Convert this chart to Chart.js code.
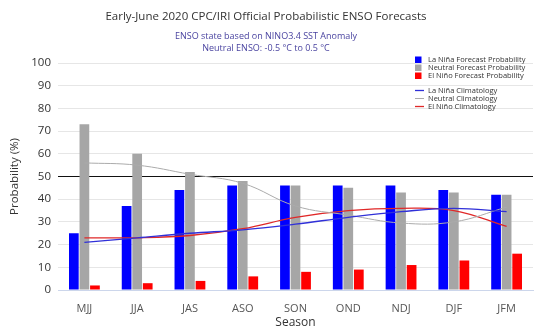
<!DOCTYPE html>
<html>
<head>
<meta charset="utf-8">
<script src="https://cdn.jsdelivr.net/npm/chart.js@4.4.1/dist/chart.umd.min.js"></script>
<style>
  html, body { margin: 0; padding: 0; background: #fff; }
  #wrap { width: 547px; height: 335px; }
</style>
</head>
<body>
<div id="wrap"><canvas id="chart" width="547" height="335"></canvas></div>
<script>
  // ─── Data ──────────────────────────────────────────
  const seasons = ['MJJ', 'JJA', 'JAS', 'ASO', 'SON', 'OND', 'NDJ', 'DJF', 'JFM'];

  const laNinaProb  = [25, 37, 44, 46, 46, 46, 46, 44, 42];
  const neutralProb = [73, 60, 52, 48, 46, 45, 43, 43, 42];
  const elNinoProb  = [2, 3, 4, 6, 8, 9, 11, 13, 16];

  const laNinaClim  = [21, 23, 25, 26.5, 29, 32, 34.5, 36, 34.5];
  const neutralClim = [56, 55, 51, 47, 37, 33, 29.5, 30, 36.5];
  const elNinoClim  = [23, 23, 24, 27, 32, 35, 36, 35, 28];

  const yTicks = [0, 10, 20, 30, 40, 50, 60, 70, 80, 90, 100];

  const titleText = 'Early-June 2020 CPC/IRI Official Probabilistic ENSO Forecasts';
  const subtitleLines = ['ENSO state based on NINO3.4 SST Anomaly', 'Neutral ENSO: -0.5 °C to 0.5 °C'];

  const FONT = "'Open Sans', 'DejaVu Sans', sans-serif";

  // ─── Titles (centred a bit left of the canvas, like the source) ───
  const headerText = {
    id: 'headerText',
    afterDraw(chart) {
      const { ctx } = chart;
      const cx = 266;
      ctx.save();
      ctx.textAlign = 'center';
      ctx.textBaseline = 'middle';
      ctx.fillStyle = '#333333';
      ctx.font = `11.5px ${FONT}`;
      ctx.fillText(titleText, cx, 17);
      ctx.fillStyle = '#4a44a0';
      ctx.font = `9px ${FONT}`;
      ctx.fillText(subtitleLines[0], cx, 36.5);
      ctx.fillText(subtitleLines[1], cx, 48);
      ctx.restore();
    },
  };

  // ─── Legend drawn inside the plot, top right ───────
  const insideLegend = {
    id: 'insideLegend',
    afterDraw(chart) {
      const { ctx } = chart;
      const x = 415;
      const rows = [
        { i: 0, y: 59.5 },
        { i: 1, y: 67.5 },
        { i: 2, y: 75.5 },
        { i: 3, y: 90.5 },
        { i: 4, y: 98.5 },
        { i: 5, y: 106.5 },
      ];
      ctx.save();
      ctx.font = `7.5px ${FONT}`;
      ctx.textBaseline = 'middle';
      rows.forEach((r) => {
        const ds = chart.data.datasets[r.i];
        if (ds.type === 'line') {
          ctx.strokeStyle = ds.borderColor;
          ctx.lineWidth = ds.borderWidth;
          ctx.beginPath();
          ctx.moveTo(x, r.y);
          ctx.lineTo(x + 9, r.y);
          ctx.stroke();
        } else {
          ctx.fillStyle = ds.backgroundColor;
          ctx.fillRect(x, r.y - 3, 6.5, 6.5);
        }
        ctx.fillStyle = '#333';
        ctx.fillText(ds.label, x + 13, r.y + 0.5);
      });
      ctx.restore();
    },
  };

  const barBase = { barPercentage: 0.92, categoryPercentage: 0.6, order: 2 };
  const lineBase = { type: 'line', pointRadius: 0, fill: false, tension: 0.4, order: 1 };

  new Chart(document.getElementById('chart'), {
    type: 'bar',
    data: {
      labels: seasons,
      datasets: [
        { ...barBase, label: 'La Niña Forecast Probability', data: laNinaProb, backgroundColor: '#0000ff' },
        { ...barBase, label: 'Neutral Forecast Probability', data: neutralProb, backgroundColor: '#a6a6a6' },
        { ...barBase, label: 'El Niño Forecast Probability', data: elNinoProb, backgroundColor: '#ff0000' },
        { ...lineBase, label: 'La Niña Climatology', data: laNinaClim, borderColor: '#3030d8', borderWidth: 1.3 },
        { ...lineBase, label: 'Neutral Climatology', data: neutralClim, borderColor: '#ababab', borderWidth: 1 },
        { ...lineBase, label: 'El Niño Climatology', data: elNinoClim, borderColor: '#e02828', borderWidth: 1.3 },
      ],
    },
    options: {
      responsive: false,
      animation: false,
      layout: { padding: { left: 4, right: 14, top: 63, bottom: 0 } },
      plugins: {
        legend: { display: false },
        tooltip: { enabled: false },
        title: { display: false },
        subtitle: { display: false },
      },
      scales: {
        x: {
          grid: { display: false },
          border: { display: true, color: '#ccd6eb' },
          ticks: { color: '#555', font: { family: FONT, size: 11 }, padding: 4 },
          title: {
            display: true,
            text: 'Season',
            color: '#333',
            font: { family: FONT, size: 12 },
            padding: { top: 2, bottom: 5 },
          },
          afterFit(scale) { scale.height = 45; },
        },
        y: {
          min: 0,
          max: 100,
          afterBuildTicks(scale) { scale.ticks = yTicks.map((v) => ({ value: v })); },
          grid: {
            color: (c) => (c.tick && c.tick.value === 50 ? '#111111' : '#e6e6e6'),
            lineWidth: 1,
            drawTicks: false,
          },
          border: { display: false },
          ticks: { color: '#333', font: { family: FONT, size: 11.5 }, padding: 7 },
          title: {
            display: true,
            text: 'Probability (%)',
            color: '#333',
            font: { family: FONT, size: 11.5 },
            padding: { bottom: 4 },
          },
          afterFit(scale) { scale.width = 54; },
        },
      },
    },
    plugins: [headerText, insideLegend],
  });
</script>
</body>
</html>
